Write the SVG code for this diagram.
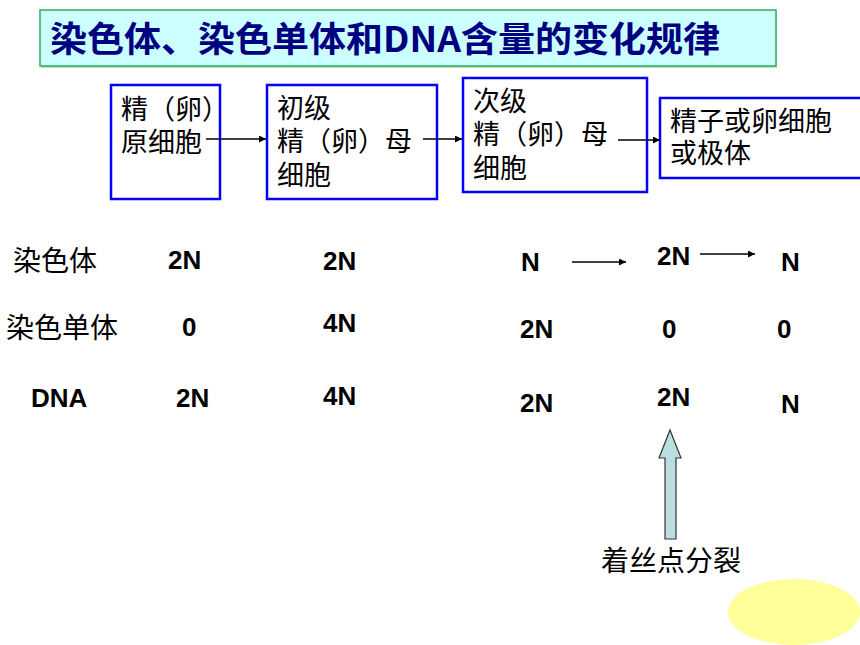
<svg xmlns="http://www.w3.org/2000/svg" width="860" height="645" viewBox="0 0 860 645">
<style>
.box{fill:#FFFFFF;stroke:#0000FF;stroke-width:2.5}
.bt{font-family:"Noto Sans CJK SC","Liberation Sans",sans-serif;font-size:27px;fill:#000000}
.lbl{font-family:"Noto Sans CJK SC","Liberation Sans",sans-serif;font-size:28px;fill:#000000}
.num{font-family:"Liberation Sans",Arial,sans-serif;font-weight:bold;font-size:26px;fill:#000000}
.ln{stroke:#000000;stroke-width:1.3;fill:none;marker-end:url(#ah)}
</style>
<defs>
<marker id="ah" viewBox="0 0 10 10" refX="10" refY="5" markerWidth="7" markerHeight="7" markerUnits="userSpaceOnUse" orient="auto">
<path d="M0,0 L10,5 L0,10 z" fill="#000000"/>
</marker>
</defs>
<rect width="860" height="645" fill="#FFFFFF"/>
<g id="title">
<rect x="41" y="12" width="736" height="56" fill="#99CC99" opacity="0.6"/>
<rect x="40" y="10" width="736" height="56" fill="#CCFFFF" stroke="#33AA55" stroke-width="1.5"/>
<text x="50" y="52" font-family="'Noto Sans CJK SC','Liberation Sans',sans-serif" font-weight="bold" font-size="35" fill="#000080" textLength="670" lengthAdjust="spacingAndGlyphs">染色体、染色单体和DNA含量的变化规律</text>
</g>
<g id="node1">
<rect class="box" x="111" y="85" width="109" height="114"/>
<text class="bt" x="121" y="119">精（卵）</text>
<text class="bt" x="121" y="152">原细胞</text>
</g>
<g id="node2">
<rect class="box" x="267" y="85" width="170" height="114"/>
<text class="bt" x="277" y="118">初级</text>
<text class="bt" x="277" y="151">精（卵）母</text>
<text class="bt" x="277" y="185">细胞</text>
</g>
<g id="node3">
<rect class="box" x="463" y="78" width="184" height="114"/>
<text class="bt" x="473" y="111">次级</text>
<text class="bt" x="473" y="144">精（卵）母</text>
<text class="bt" x="473" y="178">细胞</text>
</g>
<g id="node4">
<rect class="box" x="660" y="98" width="210" height="80"/>
<text class="bt" x="670" y="131">精子或卵细胞</text>
<text class="bt" x="670" y="163">或极体</text>
</g>
<g id="connectors">
<line class="ln" x1="206" y1="139" x2="266" y2="139"/>
<line class="ln" x1="423" y1="139" x2="462" y2="139"/>
<line class="ln" x1="618" y1="140" x2="660" y2="140"/>
<line class="ln" x1="572" y1="262" x2="626" y2="262"/>
<line class="ln" x1="700" y1="254" x2="755" y2="254"/>
</g>
<g id="table">
<text class="lbl" x="13" y="271">染色体</text>
<text class="lbl" x="6" y="338">染色单体</text>
<text class="num" x="31" y="407" font-size="27">DNA</text>
<text class="num" x="168" y="269">2N</text>
<text class="num" x="323" y="270">2N</text>
<text class="num" x="521" y="271">N</text>
<text class="num" x="657" y="265">2N</text>
<text class="num" x="781" y="271">N</text>
<text class="num" x="182" y="336">0</text>
<text class="num" x="323" y="332">4N</text>
<text class="num" x="520" y="338">2N</text>
<text class="num" x="662" y="338">0</text>
<text class="num" x="777" y="338">0</text>
<text class="num" x="176" y="407">2N</text>
<text class="num" x="323" y="405">4N</text>
<text class="num" x="520" y="412">2N</text>
<text class="num" x="657" y="406">2N</text>
<text class="num" x="781" y="413">N</text>
</g>
<g id="split">
<path d="M670,430 L681,458 L676,458 L676,539 L665,539 L665,458 L659,458 Z" fill="#B9DFE2" stroke="#333333" stroke-width="1.2"/>
<text class="lbl" x="601" y="571">着丝点分裂</text>
</g>
<ellipse cx="794" cy="612" rx="66" ry="33" fill="#FFFF99"/>
</svg>
